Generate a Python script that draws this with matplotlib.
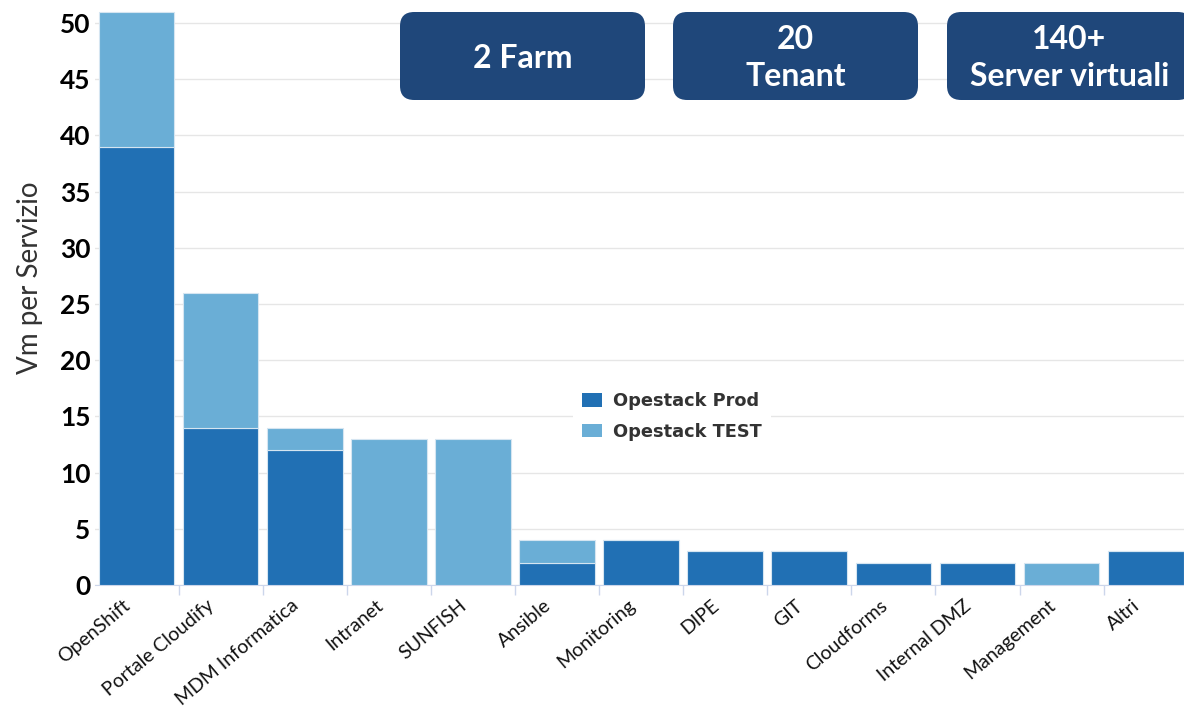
import matplotlib
matplotlib.use("Agg")
import matplotlib.pyplot as plt
from matplotlib.patches import FancyBboxPatch, Patch
from matplotlib.transforms import ScaledTranslation
import numpy as np

categories = ["OpenShift", "Portale Cloudify", "MDM Informatica", "Intranet", "SUNFISH",
              "Ansible", "Monitoring", "DIPE", "GIT", "Cloudforms", "Internal DMZ",
              "Management", "Altri"]
prod = [39, 14, 12, 0, 0, 2, 4, 3, 3, 2, 2, 0, 3]
test = [12, 12, 2, 13, 13, 2, 0, 0, 0, 0, 0, 2, 0]
yticks = [0, 5, 10, 15, 20, 25, 30, 35, 40, 45, 50]
series_names = ["Opestack Prod", "Opestack TEST"]
boxes_text = ["2 Farm", "20\nTenant", "140+\nServer virtuali"]

W, H = 1184, 707
DPI = 100
fig = plt.figure(figsize=(W / DPI, H / DPI), dpi=DPI)
fig.patch.set_facecolor("white")

ax_left, ax_bottom_px = 94.5, 585
ax = fig.add_axes([ax_left / W, (H - ax_bottom_px) / H, (W - ax_left) / W, ax_bottom_px / H])

c_prod = "#2170b4"
c_test = "#6aaed6"
x = np.arange(len(categories))
ax.bar(x, prod, width=0.9, color=c_prod, edgecolor="#d5e5f1", linewidth=0.8, zorder=3)
ax.bar(x, test, width=0.9, bottom=prod, color=c_test, edgecolor="#d5e5f1", linewidth=0.8, zorder=3)

ax.set_xlim(-0.5, 12.455)
ax.set_ylim(0, 52.05)

ax.set_yticks(yticks)
ax.set_yticklabels([str(v) for v in yticks], fontfamily="Lato", fontweight="bold", fontsize=19, color="black")
ax.tick_params(axis="y", length=0, pad=3)
ax.yaxis.grid(True, color="#e6e6e6", linewidth=1, zorder=0)
ax.set_axisbelow(True)

ax.set_xticks(x)
ax.set_xticklabels(categories, rotation=40, ha="right", va="top", rotation_mode="anchor",
                   fontfamily="Lato", fontsize=14, color="#111111")
ax.tick_params(axis="x", length=0, pad=0)
offset = ScaledTranslation(-14 / DPI, -12 / DPI, fig.dpi_scale_trans)
for lbl in ax.get_xticklabels():
    lbl.set_transform(lbl.get_transform() + offset)
ax.set_xticks(np.arange(0.5, 12, 1), minor=True)
ax.tick_params(axis="x", which="minor", length=7, color="#ccd6eb", width=1)

for s in ["top", "right", "left"]:
    ax.spines[s].set_visible(False)
ax.spines["bottom"].set_color("#ccd6eb")

fig.text(30 / W, 1 - 278 / H, "Vm per Servizio", rotation=90, ha="center", va="center",
         fontfamily="Lato", fontsize=20, color="#333333")

handles = [Patch(facecolor=c_prod, edgecolor="none"), Patch(facecolor=c_test, edgecolor="none")]
leg = fig.legend(handles, series_names, loc="upper left",
                 bbox_to_anchor=(573 / W, 1 - 383 / H), bbox_transform=fig.transFigure,
                 frameon=True, fancybox=False, framealpha=1, facecolor="white", edgecolor="none",
                 prop={"family": "DejaVu Sans", "weight": "bold", "size": 12.8},
                 handlelength=1.15, handleheight=0.8, handletextpad=0.6, labelspacing=0.72,
                 borderpad=0.5, borderaxespad=0)
for t in leg.get_texts():
    t.set_color("#333333")

box_color = "#1f477a"
box_specs = [(400, 645), (673, 918), (947, 1192)]
for (x0, x1), txt in zip(box_specs, boxes_text):
    p = FancyBboxPatch((x0 / W, 1 - 100 / H), (x1 - x0) / W, 88 / H,
                       boxstyle="round,pad=0,rounding_size=0.012",
                       transform=fig.transFigure, facecolor=box_color, edgecolor="none",
                       mutation_aspect=W / H, zorder=5)
    fig.patches.append(p)
    fig.text((x0 + x1) / 2 / W, 1 - 58 / H, txt, ha="center", va="center", color="white",
             fontfamily="Lato", fontweight="bold", fontsize=23, linespacing=1.3, zorder=6)

fig.savefig("out.png", dpi=DPI)
